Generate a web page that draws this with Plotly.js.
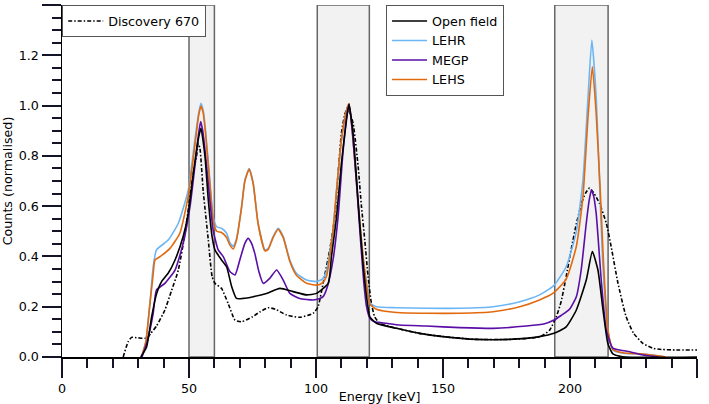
<!DOCTYPE html>
<html>
<head>
<meta charset="utf-8">
<script src="https://cdn.plot.ly/plotly-3.0.1.min.js"></script>
<style>
  html, body { margin: 0; padding: 0; background: #fff; }
  #chart { width: 709px; height: 404px; }
</style>
</head>
<body>
<div id="chart"></div>
<script>
// energy windows (keV)
const windowStarts = [50, 100.5, 194];
const windowEnds = [60, 121, 215];

// Discovery 670 (dash-dot)
const discEnergy = [24.1, 26, 27.4, 30, 33.3, 35, 37.2, 40.5, 43, 45.8, 48.4, 50.4, 52, 53, 53.6, 54.3, 55.6, 57.6, 59.1, 60.2, 62.8, 65.4, 68.1, 70.7, 75, 78, 81.2, 84, 88.4, 93.6, 98.9, 100.8, 102.8, 105.4, 107.4, 108.7, 110, 111.3, 112.3, 113, 114.6, 116.6, 117.9, 119.2, 120.5, 121.8, 123.1, 125.1, 127.5, 131.7, 140.8, 150, 163.1, 176.2, 188, 192, 194.6, 196.5, 198.5, 200.5, 202.5, 204.5, 206, 207.7, 209.5, 211.6, 214.3, 216.2, 218.9, 222.1, 225, 228.7, 232.6, 236, 241.8, 250];
const discCounts = [0, 0.06, 0.078, 0.076, 0.075, 0.095, 0.123, 0.187, 0.26, 0.346, 0.49, 0.64, 0.75, 0.8, 0.85, 0.83, 0.66, 0.465, 0.32, 0.293, 0.273, 0.213, 0.147, 0.14, 0.16, 0.18, 0.196, 0.19, 0.167, 0.158, 0.174, 0.2, 0.293, 0.426, 0.558, 0.73, 0.89, 0.963, 0.99, 0.98, 0.93, 0.757, 0.598, 0.465, 0.32, 0.214, 0.16, 0.134, 0.125, 0.114, 0.094, 0.081, 0.07, 0.07, 0.08, 0.107, 0.16, 0.22, 0.32, 0.43, 0.53, 0.61, 0.65, 0.672, 0.65, 0.611, 0.532, 0.439, 0.293, 0.16, 0.095, 0.054, 0.035, 0.03, 0.028, 0.028];

// Open field
const openEnergy = [31, 33.3, 35.3, 37.2, 39.2, 41.8, 44.5, 47.7, 49.7, 51.7, 53.6, 54.7, 56.3, 57.6, 59.1, 60.2, 62.8, 64.8, 66.8, 68.7, 71.3, 75.3, 80.5, 85.8, 91, 96.3, 100.2, 104.8, 106.1, 108.1, 110, 112, 113, 114.6, 115.9, 117.2, 118.5, 119.9, 121.2, 123.8, 131.7, 140.8, 150, 163.1, 176.2, 188, 193.7, 198.5, 202.5, 206.4, 208.8, 211, 213, 214.9, 216.9, 220.7, 250];
const openCounts = [0, 0.04, 0.16, 0.25, 0.3, 0.333, 0.386, 0.479, 0.571, 0.73, 0.863, 0.91, 0.797, 0.625, 0.479, 0.426, 0.386, 0.359, 0.28, 0.233, 0.233, 0.24, 0.253, 0.273, 0.26, 0.247, 0.253, 0.293, 0.4, 0.558, 0.77, 0.943, 1.005, 0.89, 0.717, 0.532, 0.373, 0.24, 0.16, 0.134, 0.114, 0.094, 0.081, 0.07, 0.07, 0.081, 0.094, 0.12, 0.187, 0.306, 0.419, 0.346, 0.187, 0.054, 0.012, 0.001, 0];

// LEHR
const lehrEnergy = [31.3, 33, 34.5, 35.9, 37.2, 41.8, 45.8, 49.7, 52.3, 53.8, 54.7, 55.6, 56.5, 58.2, 59.5, 60.9, 62.8, 64.8, 66.1, 67.4, 68.7, 70.7, 72, 73.7, 75.3, 77.2, 79.9, 81.2, 83.1, 85.1, 87.1, 89.7, 92.3, 96.3, 100.2, 102.5, 104.1, 106.7, 108.1, 110, 112, 113, 114.6, 116.6, 118.5, 119.9, 121.2, 123.8, 131.7, 143.5, 156.6, 169.7, 180.2, 188, 193.5, 198.5, 202.5, 205.1, 207.1, 208.6, 210.3, 211.6, 212.9, 214.9, 216.9, 220.8, 228.7, 235.3, 237.5];
const lehrCounts = [0, 0.06, 0.2, 0.359, 0.426, 0.465, 0.532, 0.664, 0.863, 0.97, 1.009, 0.98, 0.903, 0.704, 0.558, 0.518, 0.512, 0.492, 0.455, 0.44, 0.47, 0.598, 0.704, 0.75, 0.69, 0.532, 0.426, 0.432, 0.479, 0.512, 0.479, 0.386, 0.333, 0.306, 0.3, 0.31, 0.34, 0.505, 0.664, 0.863, 0.98, 1.008, 0.863, 0.611, 0.4, 0.293, 0.215, 0.2, 0.196, 0.194, 0.194, 0.2, 0.22, 0.247, 0.283, 0.359, 0.5, 0.704, 1.035, 1.261, 1.035, 0.704, 0.373, 0.107, 0.028, 0.015, 0.012, 0.004, 0];

// MEGP
const megpEnergy = [31.5, 33.5, 35.9, 37.2, 40.5, 44.5, 47.7, 50.4, 52.3, 53.8, 54.6, 55.4, 56.3, 58.2, 59.5, 61.5, 63.5, 66.1, 68.1, 70, 72, 73.3, 74.5, 75.9, 77.5, 79.2, 81.8, 84.5, 87.1, 89.7, 93.6, 98.9, 101.5, 102.8, 104.5, 106.7, 108.7, 110.5, 112, 113, 114.3, 115.9, 117.5, 118.8, 119.9, 121.2, 123, 127.7, 133, 143.4, 156.6, 169.7, 182.8, 190, 193.7, 196.5, 199.8, 202.5, 204.4, 206.4, 207.5, 208.4, 209.3, 210.3, 212.3, 214.3, 216.9, 223.5, 228.7, 235];
const megpCounts = [0, 0.06, 0.174, 0.267, 0.293, 0.346, 0.452, 0.598, 0.757, 0.89, 0.936, 0.9, 0.823, 0.625, 0.505, 0.426, 0.399, 0.34, 0.326, 0.386, 0.452, 0.472, 0.455, 0.412, 0.34, 0.293, 0.313, 0.346, 0.306, 0.253, 0.233, 0.227, 0.233, 0.24, 0.28, 0.386, 0.558, 0.8, 0.95, 1.005, 0.9, 0.7, 0.47, 0.3, 0.2, 0.154, 0.14, 0.134, 0.127, 0.123, 0.117, 0.114, 0.123, 0.132, 0.147, 0.165, 0.19, 0.24, 0.346, 0.532, 0.62, 0.664, 0.64, 0.572, 0.306, 0.107, 0.035, 0.021, 0.008, 0];

// LEHS
const lehsEnergy = [31.3, 33, 34.5, 35.9, 36.6, 38.6, 42.5, 46.4, 49.7, 52.3, 53.8, 54.7, 55.6, 56.5, 58.2, 59.5, 60.9, 62.8, 64.8, 66.1, 67.4, 68.7, 70.7, 72, 73.7, 75.3, 77.2, 79.9, 81.2, 83.1, 85.1, 87.1, 89.7, 92.3, 96.3, 100.2, 102.5, 104.1, 106.7, 108.1, 110, 112, 113, 114.6, 116.6, 118.5, 119.9, 121.2, 123.8, 131.7, 143.5, 156.6, 169.7, 180.2, 188, 193.5, 198.5, 202.5, 205.1, 207.1, 208.8, 210.3, 211.9, 213.2, 214.9, 216.9, 220.8, 228.7, 235.3, 237.5];
const lehsCounts = [0, 0.06, 0.2, 0.33, 0.386, 0.399, 0.432, 0.492, 0.64, 0.84, 0.96, 0.998, 0.97, 0.89, 0.69, 0.545, 0.5, 0.495, 0.475, 0.445, 0.43, 0.465, 0.595, 0.7, 0.747, 0.687, 0.53, 0.422, 0.428, 0.475, 0.508, 0.475, 0.38, 0.325, 0.293, 0.286, 0.295, 0.32, 0.505, 0.664, 0.863, 0.98, 1.008, 0.863, 0.611, 0.4, 0.285, 0.21, 0.19, 0.177, 0.174, 0.174, 0.18, 0.2, 0.227, 0.255, 0.31, 0.44, 0.638, 0.956, 1.155, 0.969, 0.664, 0.373, 0.11, 0.03, 0.017, 0.012, 0.004, 0];

const FONT = "DejaVu Sans, sans-serif";
const FS = 12.7;
// grey-black tick marks vanished in the render, coloured ones did not: use a very dark navy
const TICK_COLOR = "#141428";

const drawChart = () => {
  const plotEl = document.getElementById("chart");

  const lineTrace = (x, y, name, color, legend, dash) => ({
    x: x,
    y: y,
    type: "scatter",
    mode: "lines",
    name: name,
    legend: legend,
    line: { color: color, width: 1.6, dash: dash || "solid", shape: "spline", smoothing: 0.5 }
  });

  const data = [
    lineTrace(discEnergy, discCounts, "Discovery 670", "#000000", "legend", "4px,2px,1.5px,2px"),
    lineTrace(lehrEnergy, lehrCounts, "LEHR", "#6db6f5", "legend2"),
    lineTrace(lehsEnergy, lehsCounts, "LEHS", "#e2690e", "legend2"),
    lineTrace(megpEnergy, megpCounts, "MEGP", "#5a0ea6", "legend2"),
    lineTrace(openEnergy, openCounts, "Open field", "#000000", "legend2")
  ];
  // legend order: Open field, LEHR, MEGP, LEHS
  data[4].legendrank = 1;
  data[1].legendrank = 2;
  data[3].legendrank = 3;
  data[2].legendrank = 4;

  const shapes = windowStarts.map((start, i) => ({
    type: "rect",
    xref: "x",
    yref: "y",
    x0: start,
    x1: windowEnds[i],
    y0: 0,
    y1: 1.4,
    fillcolor: "#f2f2f2",
    line: { color: "#666666", width: 1.5 },
    layer: "below"
  }));

  const axisCommon = {
    showgrid: false,
    zeroline: false,
    showline: true,
    linecolor: "#000000",
    linewidth: 1.5,
    ticks: "outside",
    ticklen: 19,
    tickwidth: 2,
    tickcolor: TICK_COLOR,
    tickfont: { family: FONT, size: FS, color: "#000" },
    automargin: false
  };

  const minorTicks = (step) => ({
    dtick: step,
    ticks: "outside",
    ticklen: 9,
    tickwidth: 2,
    tickcolor: TICK_COLOR,
    showgrid: false
  });

  const legendCommon = {
    bgcolor: "#ffffff",
    bordercolor: "#555555",
    borderwidth: 1.2,
    font: { family: FONT, size: FS, color: "#000" },
    xanchor: "left",
    yanchor: "top",
    yref: "paper",
    xref: "paper",
    itemwidth: 35,
    traceorder: "normal",
    itemclick: false
  };

  const titleFont = { family: FONT, size: FS, color: "#000" };

  const layout = {
    width: 709,
    height: 404,
    margin: { t: 5, r: 12, b: 47, l: 62 },
    paper_bgcolor: "#ffffff",
    plot_bgcolor: "#ffffff",
    font: { family: FONT, size: FS, color: "#000" },
    xaxis: Object.assign({}, axisCommon, {
      range: [0, 250],
      dtick: 50,
      tick0: 0,
      minor: minorTicks(10),
      title: { text: "Energy [keV]", font: titleFont, standoff: 6 }
    }),
    yaxis: Object.assign({}, axisCommon, {
      range: [0, 1.4],
      dtick: 0.2,
      tick0: 0,
      tickformat: ".1f",
      minor: minorTicks(0.05),
      title: { text: "Counts (normalised)", font: titleFont, standoff: 4 }
    }),
    shapes: shapes,
    showlegend: true,
    legend: Object.assign({}, legendCommon, { x: 0, y: 1 }),
    legend2: Object.assign({}, legendCommon, { x: 0.51, y: 1 })
  };

  Plotly.newPlot(plotEl, data, layout, { displayModeBar: false, staticPlot: true });
};

drawChart();
</script>
</body>
</html>
